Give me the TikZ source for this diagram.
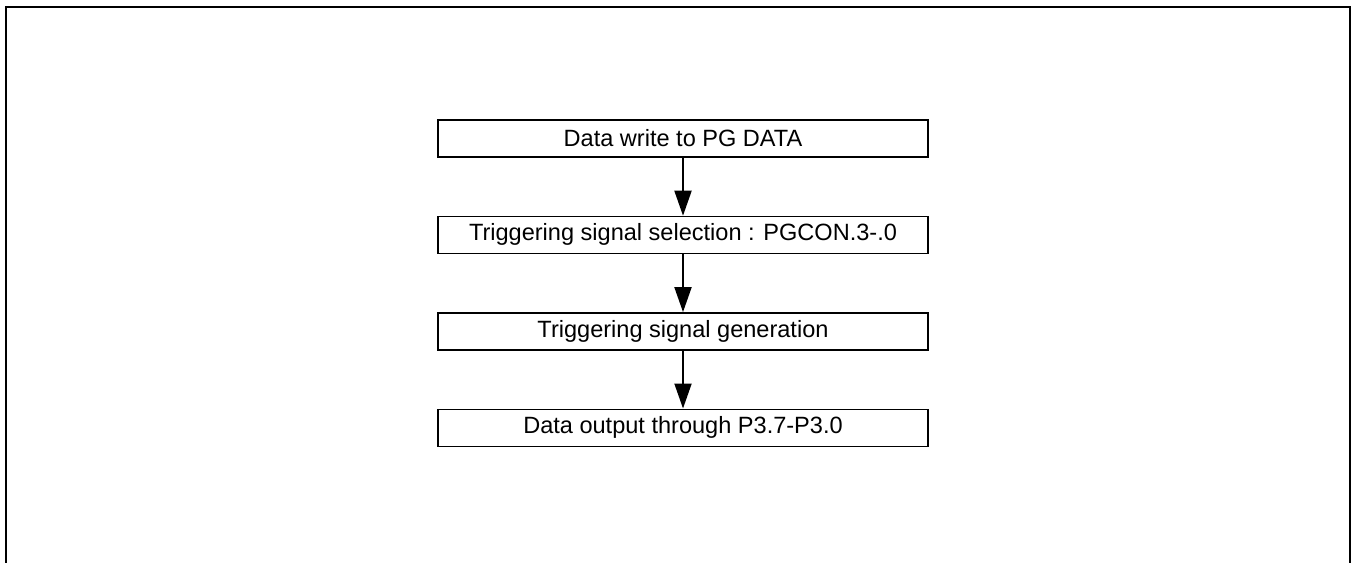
\documentclass[tikz,border=0pt]{standalone}
\usepackage{fontspec}
\setmainfont{Liberation Sans}
\usetikzlibrary{positioning, arrows.meta}
\tikzset{
  stepbox/.style={draw, line width=0.8pt, minimum width=9.8cm, minimum height=0.74cm, inner sep=0pt, font=\fontsize{13.4}{15}\selectfont},
  flow/.style={line width=1.1pt, -{Triangle[length=0.5cm, width=0.34cm]}}}

\begin{document}
\begin{tikzpicture}[node distance=1.16cm]
\useasboundingbox (0,0) rectangle (27.08,-11.26);
\draw [line width=1.1pt] (0.12,-11.26) -- (0.12,-0.14) -- (27.0,-0.14) -- (27.0,-11.26);
\node [stepbox] (write) at (13.66,-2.77) {Data write to PG DATA};
\node [stepbox, below=of write] (select) {Triggering signal selection : PGCON.3-.0};
\node [stepbox, below=of select] (gen) {Triggering signal generation};
\node [stepbox, below=of gen] (out) {Data output through P3.7-P3.0};
\draw [flow] (write) -- (select);
\draw [flow] (select) -- (gen);
\draw [flow] (gen) -- (out);
\end{tikzpicture}
\end{document}
